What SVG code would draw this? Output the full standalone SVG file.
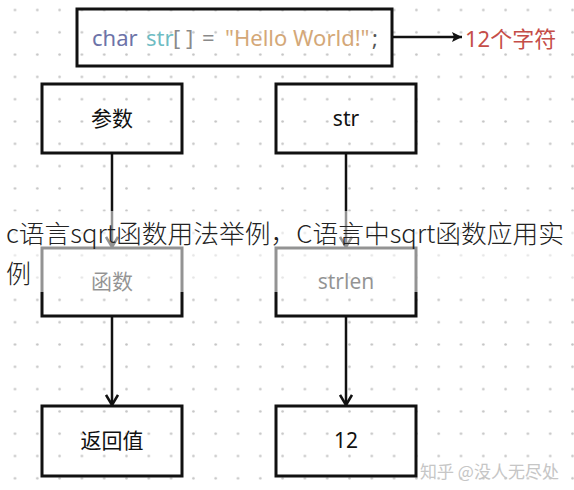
<svg xmlns="http://www.w3.org/2000/svg" width="574" height="490" viewBox="0 0 574 490">
<style>
.box{fill:none;stroke:#111;stroke-width:3}
.lbl{font-family:"Noto Sans","Noto Sans CJK SC",sans-serif;font-size:21px;fill:#111;text-anchor:middle}
.con{stroke:#111;stroke-width:2.5;fill:none}
.code{font-family:"Noto Sans","Noto Sans CJK SC",sans-serif;font-size:22px}
</style>
<defs>
<pattern id="dots" patternUnits="userSpaceOnUse" x="3.85" y="-1.15" width="22.3" height="22.3">
<circle cx="11.15" cy="11.15" r="1.3" fill="#c4c4c4"/>
</pattern>
<marker id="v" markerUnits="userSpaceOnUse" viewBox="0 0 12 14" refX="11" refY="7" markerWidth="12" markerHeight="14" orient="auto">
<path d="M1,1 L11,7 L1,13" fill="none" stroke="#111" stroke-width="2.6"/>
</marker>
<marker id="tri" markerUnits="userSpaceOnUse" viewBox="0 0 10 10" refX="10" refY="5" markerWidth="10" markerHeight="10" orient="auto">
<path d="M0,0 L10,5 L0,10 L2,5 z" fill="#111"/>
</marker>
</defs>
<rect width="574" height="490" fill="#fff"/>
<rect width="574" height="490" fill="url(#dots)"/>

<g id="connectors">
<line class="con" x1="393" y1="37" x2="462" y2="37" marker-end="url(#tri)"/>
<line class="con" x1="112" y1="153" x2="112" y2="247" marker-end="url(#v)"/>
<line class="con" x1="346" y1="153" x2="346" y2="247" marker-end="url(#v)"/>
<line class="con" x1="112" y1="316" x2="112" y2="405" marker-end="url(#v)"/>
<line class="con" x1="346" y1="316" x2="346" y2="405" marker-end="url(#v)"/>
</g>

<g id="code">
<rect class="box" x="77" y="9" width="315" height="57"/>
<text class="code" y="46">
<tspan x="92" fill="#6d73a8">char</tspan>
<tspan x="146" fill="#6fbcc3">str</tspan>
<tspan x="173" fill="#8a8a8a">[ ]</tspan>
<tspan x="202" fill="#8a8a8a">=</tspan>
<tspan x="225" fill="#d4a878">"Hello World!"</tspan>
<tspan x="372" fill="#555">;</tspan>
</text>
</g>
<g id="count">
<text x="465" y="47" style="font-family:'Noto Sans','Noto Sans CJK SC',sans-serif;font-size:22px;fill:#c54d48">12个字符</text>
</g>

<g id="canshu">
<rect class="box" x="42" y="84" width="140" height="69"/>
<text class="lbl" x="112" y="126">参数</text>
</g>
<g id="str">
<rect class="box" x="276" y="84" width="140" height="69"/>
<text class="lbl" x="346" y="126">str</text>
</g>
<g id="hanshu">
<rect class="box" x="42" y="248" width="140" height="68"/>
<text class="lbl" x="112" y="289">函数</text>
</g>
<g id="strlen">
<rect class="box" x="276" y="248" width="140" height="68"/>
<text class="lbl" x="346" y="289">strlen</text>
</g>
<g id="fanhuizhi">
<rect class="box" x="42" y="406" width="140" height="70"/>
<text class="lbl" x="112" y="448">返回值</text>
</g>
<g id="twelve">
<rect class="box" x="276" y="406" width="140" height="70"/>
<text class="lbl" x="346" y="448">12</text>
</g>

<rect x="0" y="211" width="574" height="81" fill="#fff" fill-opacity="0.55"/>
<g id="caption" style="font-family:'Noto Sans CJK SC',sans-serif;font-size:25px;font-weight:300;fill:#222">
<text x="6" y="243" textLength="558" lengthAdjust="spacingAndGlyphs">c语言sqrt函数用法举例，C语言中sqrt函数应用实</text>
<text x="6" y="283">例</text>
</g>
<text x="420" y="478" style="font-family:'Noto Sans CJK SC',sans-serif;font-size:17px;fill:#c6c6c6">知乎 @没人无尽处</text>
</svg>
